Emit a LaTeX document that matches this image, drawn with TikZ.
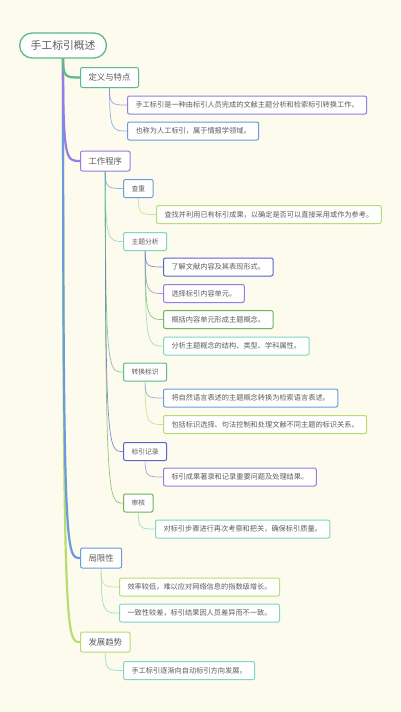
\documentclass[tikz,border=0pt]{standalone}
\usepackage{fontspec}
\newfontfamily\cjk{Noto Sans CJK SC}
\usetikzlibrary{calc}
\definecolor{bgc}{RGB}{253,250,238}
\definecolor{txt}{RGB}{92,92,92}
\definecolor{cgreen}{RGB}{93,185,138}
\definecolor{cpurple}{RGB}{150,125,225}
\definecolor{cblue}{RGB}{105,155,222}
\definecolor{clight}{RGB}{182,222,112}
\definecolor{cteal}{RGB}{125,216,190}
\definecolor{cindigo}{RGB}{88,102,196}
\definecolor{cgreentwo}{RGB}{108,182,88}
\newcommand\mmlink[3]{\draw[#1] (#2.south) .. controls ($(#2.south |- #3.west)$) and ($(#2.south |- #3.west)+(3,0)$) .. (#3.west);}
\begin{document}
\begin{tikzpicture}[x=1pt,y=-1pt,
 box/.style={draw, fill=white, rounded corners=2pt, anchor=west, inner xsep=8pt, inner ysep=0pt, text=txt, line width=1pt},
 rootbox/.style={box, rounded corners=12.5pt, minimum height=25pt, inner xsep=11pt, line width=1.3pt, font=\cjk\fontsize{10.8}{12}\selectfont},
 lvone/.style={box, minimum height=20pt, font=\cjk\fontsize{8.4}{10}\selectfont},
 lvtwo/.style={box, minimum height=18pt, font=\cjk\fontsize{6.8}{8}\selectfont},
 leaf/.style={box, minimum height=18pt, font=\cjk\fontsize{7.2}{8}\selectfont},
 thick link/.style={line width=2.2pt},
 thin link/.style={line width=0.7pt, draw opacity=0.75},
]
\fill[bgc] (0,0) rectangle (400,712);
\useasboundingbox (0,0) rectangle (400,712);

\node[rootbox, draw=cgreen] (root) at (19,45.5) {手工标引概述};

\node[lvone, draw=cgreen] (A) at (80,77.5) {定义与特点};
\node[leaf, draw=cpurple] (a1) at (127,105) {手工标引是一种由标引人员完成的文献主题分析和检索标引转换工作。};
\node[leaf, draw=cblue] (a2) at (127,131) {也称为人工标引，属于情报学领域。};

\node[lvone, draw=cpurple] (B) at (80,161) {工作程序};
\node[lvtwo, draw=cblue] (b1) at (123,188.5) {查重};
\node[leaf, draw=clight] (b11) at (156,214.5) {查找并利用已有标引成果，以确定是否可以直接采用或作为参考。};
\node[lvtwo, draw=cteal] (b2) at (123,241.5) {主题分析};
\node[leaf, draw=cindigo] (b21) at (163,267) {了解文献内容及其表现形式。};
\node[leaf, draw=cpurple] (b22) at (163,293.5) {选择标引内容单元。};
\node[leaf, draw=cgreentwo] (b23) at (163,319.5) {概括内容单元形成主题概念。};
\node[leaf, draw=cteal] (b24) at (163,346) {分析主题概念的结构、类型、学科属性。};
\node[lvtwo, draw=cgreen] (b3) at (123,372) {转换标识};
\node[leaf, draw=cblue] (b31) at (163,398) {将自然语言表述的主题概念转换为检索语言表述。};
\node[leaf, draw=clight] (b32) at (163,424.5) {包括标识选择、句法控制和处理文献不同主题的标识关系。};
\node[lvtwo, draw=cindigo] (b4) at (123,451.5) {标引记录};
\node[leaf, draw=cpurple] (b41) at (163,477) {标引成果著录和记录重要问题及处理结果。};
\node[lvtwo, draw=cgreentwo] (b5) at (123,503) {审核};
\node[leaf, draw=cteal] (b51) at (155,529) {对标引步骤进行再次考察和把关，确保标引质量。};

\node[lvone, draw=cblue] (C) at (80,558) {局限性};
\node[leaf, draw=clight] (c1) at (119,587) {效率较低，难以应对网络信息的指数级增长。};
\node[leaf, draw=cteal] (c2) at (119,613) {一致性较差，标引结果因人员差异而不一致。};

\node[lvone, draw=clight] (D) at (80,642) {发展趋势};
\node[leaf, draw=cteal] (d1) at (123,670.5) {手工标引逐渐向自动标引方向发展。};

% trunk links
\mmlink{thick link, clight}{root}{D}
\mmlink{thick link, cblue}{root}{C}
\mmlink{thick link, cpurple}{root}{B}
\mmlink{thick link, cgreen}{root}{A}

% second level links
\mmlink{thin link, cpurple}{A}{a1}
\mmlink{thin link, cblue}{A}{a2}
\mmlink{thin link, cgreentwo}{B}{b5}
\mmlink{thin link, cindigo}{B}{b4}
\mmlink{thin link, cgreen}{B}{b3}
\mmlink{thin link, cteal}{B}{b2}
\mmlink{thin link, cblue}{B}{b1}
\mmlink{thin link, clight}{b1}{b11}
\mmlink{thin link, cteal}{b2}{b24}
\mmlink{thin link, cgreentwo}{b2}{b23}
\mmlink{thin link, cpurple}{b2}{b22}
\mmlink{thin link, cindigo}{b2}{b21}
\mmlink{thin link, clight}{b3}{b32}
\mmlink{thin link, cblue}{b3}{b31}
\mmlink{thin link, cpurple}{b4}{b41}
\mmlink{thin link, cteal}{b5}{b51}
\mmlink{thin link, cteal}{C}{c2}
\mmlink{thin link, clight}{C}{c1}
\mmlink{thin link, cteal}{D}{d1}
\end{tikzpicture}
\end{document}
